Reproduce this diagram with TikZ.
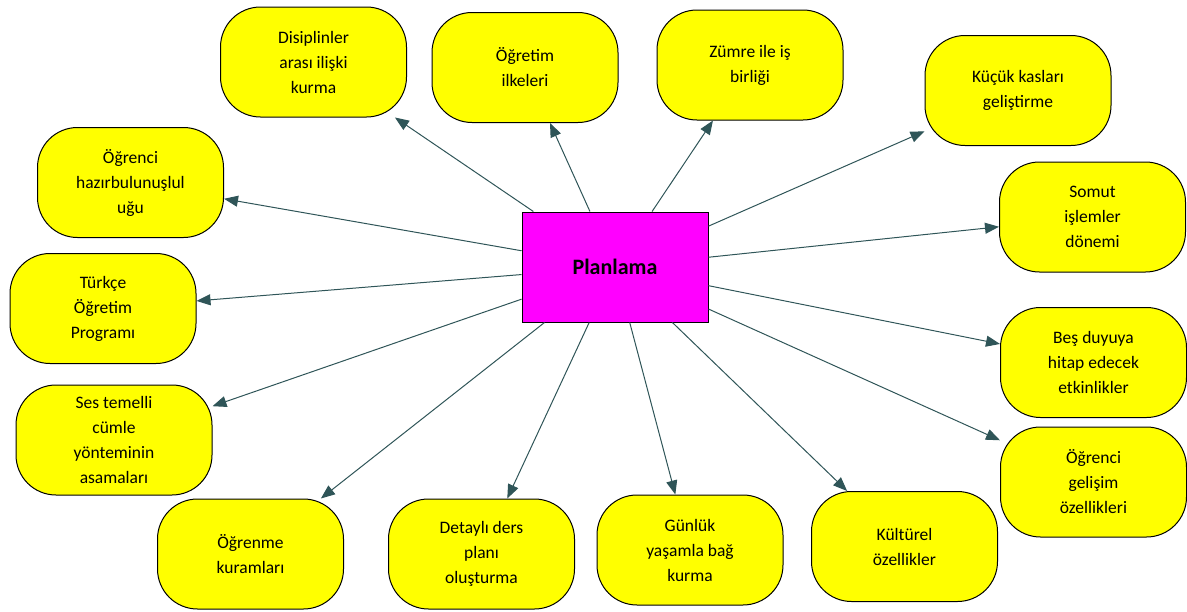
\documentclass[tikz,border=0pt]{standalone}
\usepackage{fontspec}
\setmainfont{Carlito}
\usetikzlibrary{arrows.meta, positioning}
\definecolor{linegray}{HTML}{2F5558}
\definecolor{boxyellow}{HTML}{FFFF00}
\definecolor{planpink}{HTML}{FF00FF}

\begin{document}
\begin{tikzpicture}[x=1pt,y=-1pt, font=\fontsize{17.5}{25}\selectfont,
  idea/.style={draw=black, line width=1pt, fill=boxyellow, rounded corners=40pt,
    minimum width=186pt, minimum height=110pt, align=center, inner sep=2pt},
  centre/.style={draw=black, line width=1pt, fill=planpink,
    minimum width=186pt, minimum height=110pt, font=\fontsize{22}{25}\selectfont\bfseries},
  link/.style={draw=linegray, line width=1pt, -{Triangle[length=14pt,width=11pt]}}]
\useasboundingbox (0,0) rectangle (1187,611);

\node[centre] (plan) at (615,267) {Planlama};

\node[idea] (dis) at (313.5,62) {Disiplinler\\arası ilişki\\kurma};
\node[idea] (ilke) at (525,67.5) {Öğretim\\ilkeleri};
\node[idea] (zumre) at (750,65) {Zümre ile iş\\birliği};
\node[idea] (kas) at (1018,90.5) {Küçük kasları\\geliştirme};
\node[idea] (somut) at (1092.5,217) {Somut\\işlemler\\dönemi};
\node[idea] (hazir) at (130.5,182.5) {Öğrenci\\hazırbulunuşlul\\uğu};
\node[idea] (turkce) at (103,308.5) {Türkçe\\Öğretim\\Programı};
\node[idea, minimum width=196pt] (ses) at (114,440) {Ses temelli\\cümle\\yönteminin\\asamaları};
\node[idea] (kuram) at (250.5,554) {Öğrenme\\kuramları};
\node[idea] (ders) at (481.5,554) {Detaylı ders\\planı\\oluşturma};
\node[idea] (gunluk) at (690,550) {Günlük\\yaşamla bağ\\kurma};
\node[idea] (kultur) at (904.5,546.5) {Kültürel\\özellikler};
\node[idea] (duyu) at (1093.5,362.5) {Beş duyuya\\hitap edecek\\etkinlikler};
\node[idea] (gelisim) at (1093.5,482) {Öğrenci\\gelişim\\özellikleri};

\draw[link] (plan) -- (dis);
\draw[link] (plan) -- (ilke);
\draw[link] (plan) -- (zumre);
\draw[link] (plan) -- (kas);
\draw[link] (plan) -- (somut);
\draw[link] (plan) -- (hazir);
\draw[link] (plan) -- (turkce);
\draw[link] (plan) -- (ses);
\draw[link] (plan) -- (kuram);
\draw[link] (plan) -- (ders);
\draw[link] (plan) -- (gunluk);
\draw[link] (plan) -- (kultur);
\draw[link] (plan) -- (duyu);
\draw[link] (plan) -- (gelisim);
\end{tikzpicture}
\end{document}
